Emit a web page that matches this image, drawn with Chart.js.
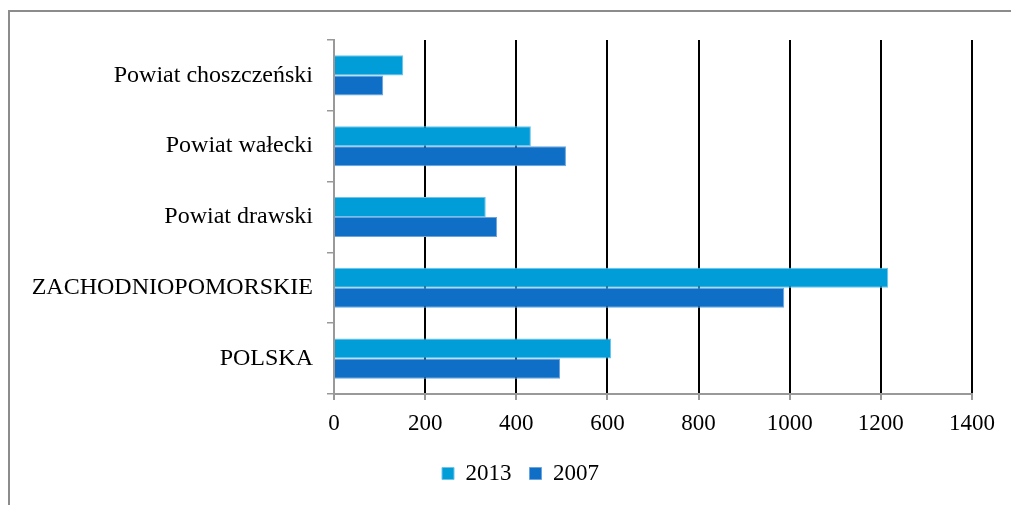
<!DOCTYPE html>
<html>
<head>
<meta charset="utf-8">
<script src="https://cdn.jsdelivr.net/npm/chart.js@4"></script>
<style>
  body { margin: 0; background: #fff; }
  #frame { position: absolute; left: 8px; top: 10px; width: 1100px; height: 600px;
           border-top: 2px solid #8c8c8c; border-left: 2px solid #8c8c8c; }
  #wrap { position: absolute; left: 0; top: 0; width: 1011px; height: 505px; }
</style>
</head>
<body>
<div id="frame"></div>
<div id="wrap"><canvas id="PowiatChart"></canvas></div>
<script>
// regions, top to bottom
const Regions = [
  'Powiat choszczeński',
  'Powiat wałecki',
  'Powiat drawski',
  'ZACHODNIOPOMORSKIE',
  'POLSKA'
];

const Years = ['2013', '2007'];

const Values2013 = [152, 432, 333, 1216, 608];
const Values2007 = [108, 509, 358, 988, 496];

const XTicks = [0, 200, 400, 600, 800, 1000, 1200, 1400];

//Data
const PowiatData = {
  labels: Regions,
  datasets: [{
    label: Years[0],
    data: Values2013,
    backgroundColor: '#009DD9',
    borderColor: '#6cc4ea',
    borderWidth: 1
  }, {
    label: Years[1],
    data: Values2007,
    backgroundColor: '#0F6FC6',
    borderColor: '#6aa3dd',
    borderWidth: 1
  }]
};

const serif = 'Liberation Serif, Times New Roman, serif';

//config
const PowiatConfig = {
  type: 'bar',
  data: PowiatData,
  options: {
    indexAxis: 'y',
    responsive: true,
    maintainAspectRatio: false,
    animation: false,
    categoryPercentage: 0.566,
    barPercentage: 1,
    layout: { padding: { left: 30, right: 0, top: 40, bottom: 10 } },
    plugins: {
      tooltip: { enabled: false },
      legend: {
        position: 'bottom',
        labels: {
          boxWidth: 12,
          boxHeight: 12,
          padding: 18,
          color: '#000',
          font: { family: serif, size: 23 }
        }
      }
    },
    scales: {
      x: {
        min: 0,
        max: 1400,
        afterBuildTicks: s => { s.ticks = XTicks.map(v => ({ value: v })); },
        afterFit: s => { s.height = 50; s.paddingRight = 39; },
        ticks: {
          color: '#000',
          padding: 10,
          font: { family: serif, size: 23 },
          callback: v => String(v)
        },
        grid: {
          color: c => (c.tick && c.tick.value === 0) ? 'rgba(0,0,0,0)' : '#000',
          lineWidth: 2,
          tickColor: '#999',
          tickLength: 6
        },
        border: { color: '#999', width: 2 }
      },
      y: {
        afterFit: s => { s.width = 304; },
        ticks: { color: '#000', padding: 14, font: { family: serif, size: 24 } },
        grid: {
          drawOnChartArea: false,
          color: '#999',
          lineWidth: 1.5,
          tickLength: 7
        },
        border: { color: '#999', width: 2 }
      }
    }
  }
};

//View
const PowiatChart = new Chart(
  document.getElementById('PowiatChart'),
  PowiatConfig
);
</script>
</body>
</html>
